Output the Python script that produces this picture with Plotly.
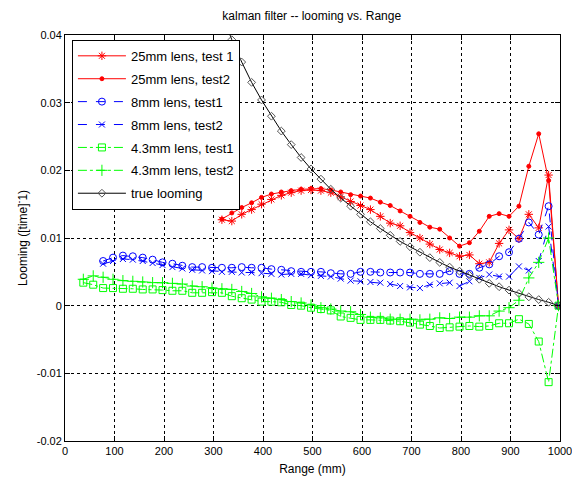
import plotly.graph_objects as go

# ---------------- data ----------------
range_red = [317, 337, 357, 377, 397, 417, 437, 457, 477, 497, 517, 537, 557, 577, 597,
             617, 637, 657, 677, 697, 717, 737, 757, 777, 797, 817, 837, 857, 877, 897,
             917, 937, 957, 977, 997]
lens25_test1 = [0.0127, 0.0125, 0.0135, 0.0142, 0.0150, 0.0157, 0.0163, 0.0167, 0.0170, 0.0171,
                0.0170, 0.0167, 0.0161, 0.0154, 0.0148, 0.0142, 0.0132, 0.0122, 0.0118, 0.0108,
                0.0100, 0.0091, 0.0083, 0.0078, 0.0073, 0.0075, 0.0062, 0.0064, 0.0092, 0.0112,
                0.0099, 0.0135, 0.0115, 0.0193, 0.0000]
lens25_test2 = [0.0128, 0.0137, 0.0145, 0.0152, 0.0160, 0.0165, 0.0168, 0.0170, 0.0172, 0.0173,
                0.0173, 0.0171, 0.0168, 0.0164, 0.0162, 0.0159, 0.0153, 0.0148, 0.0140, 0.0132,
                0.0123, 0.0116, 0.0113, 0.0100, 0.0088, 0.0093, 0.0110, 0.0132, 0.0136, 0.0132,
                0.0147, 0.0206, 0.0254, 0.0185, 0.0000]

range_blue = [77, 97, 117, 137, 157, 177, 197, 217, 237, 257, 277, 297, 317, 337, 357, 377,
              397, 417, 437, 457, 477, 497, 517, 537, 557, 577, 597, 617, 637, 657, 677, 697,
              717, 737, 757, 777, 797, 817, 837, 857, 877, 897, 917, 937, 957, 977, 997]
lens8_test1 = [0.0066, 0.0071, 0.0074, 0.0073, 0.0071, 0.0068, 0.0064, 0.0062, 0.0059, 0.0057,
               0.0057, 0.0056, 0.0056, 0.0056, 0.0057, 0.0056, 0.0056, 0.0054, 0.0053, 0.0051,
               0.0050, 0.0050, 0.0050, 0.0048, 0.0047, 0.0047, 0.0050, 0.0050, 0.0049, 0.0049,
               0.0049, 0.0049, 0.0047, 0.0047, 0.0047, 0.0051, 0.0047, 0.0047, 0.0056, 0.0061,
               0.0073, 0.0079, 0.0099, 0.0123, 0.0105, 0.0147, 0.0000]
lens8_test2 = [0.0062, 0.0066, 0.0069, 0.0068, 0.0066, 0.0063, 0.0060, 0.0057, 0.0055, 0.0053,
               0.0052, 0.0051, 0.0050, 0.0050, 0.0049, 0.0049, 0.0048, 0.0047, 0.0046, 0.0047,
               0.0047, 0.0045, 0.0044, 0.0043, 0.0040, 0.0037, 0.0036, 0.0035, 0.0034, 0.0032,
               0.0029, 0.0027, 0.0026, 0.0031, 0.0033, 0.0034, 0.0029, 0.0036, 0.0041, 0.0046,
               0.0043, 0.0043, 0.0058, 0.0052, 0.0066, 0.0117, 0.0000]

range_green = [37, 57, 77, 97, 117, 137, 157, 177, 197, 217, 237, 257, 277, 297, 317, 337,
               357, 377, 397, 417, 437, 457, 477, 497, 517, 537, 557, 577, 597, 617, 637, 657,
               677, 697, 717, 737, 757, 777, 797, 817, 837, 857, 877, 897, 917, 937, 957, 977,
               997]
lens43_test1 = [0.0034, 0.0031, 0.0026, 0.0026, 0.0025, 0.0025, 0.0024, 0.0024, 0.0023, 0.0022,
                0.0022, 0.0019, 0.0019, 0.0020, 0.0019, 0.0014, 0.0011, 0.0009, 0.0006, 0.0006,
                0.0005, 0.0001, 0.0000, -0.0003, -0.0005, -0.0007, -0.0016, -0.0018, -0.0021,
                -0.0021, -0.0021, -0.0022, -0.0023, -0.0025, -0.0028, -0.0030, -0.0033, -0.0032,
                -0.0031, -0.0030, -0.0031, -0.0030, -0.0026, -0.0026, -0.0020, -0.0027, -0.0053,
                -0.0113, 0.0000]
lens43_test2 = [0.0039, 0.0044, 0.0042, 0.0039, 0.0037, 0.0036, 0.0035, 0.0034, 0.0034, 0.0033,
                0.0032, 0.0029, 0.0028, 0.0026, 0.0025, 0.0024, 0.0021, 0.0018, 0.0013, 0.0011,
                0.0009, 0.0006, 0.0004, 0.0001, -0.0003, -0.0005, -0.0008, -0.0009, -0.0013,
                -0.0017, -0.0018, -0.0020, -0.0020, -0.0020, -0.0021, -0.0020, -0.0018, -0.0019,
                -0.0017, -0.0017, -0.0015, -0.0015, -0.0008, -0.0003, 0.0008, 0.0041, 0.0064,
                0.0100, 0.0000]

range_true = [317, 337, 357, 377, 397, 417, 437, 457, 477, 497, 517, 537, 557, 577, 597, 617,
              637, 657, 677, 697, 717, 737, 757, 777, 797, 817, 837, 857, 877, 897, 917, 937,
              957, 977, 997]
true_looming = [0.0431, 0.0393, 0.0360, 0.0330, 0.0304, 0.0280, 0.0258, 0.0238, 0.0219, 0.0202,
                0.0187, 0.0172, 0.0159, 0.0147, 0.0135, 0.0124, 0.0114, 0.0104, 0.0095, 0.0087,
                0.0079, 0.0071, 0.0064, 0.0057, 0.0051, 0.0045, 0.0039, 0.0033, 0.0028, 0.0023,
                0.0018, 0.0013, 0.0009, 0.0005, 0.0000]

x_ticks = [0, 100, 200, 300, 400, 500, 600, 700, 800, 900, 1000]
y_ticks = [-0.02, -0.01, 0, 0.01, 0.02, 0.03, 0.04]
y_tick_labels = ["-0.02", "-0.01", "0", "0.01", "0.02", "0.03", "0.04"]

# ---------------- figure ----------------
FONT = "Liberation Sans, Arial, sans-serif"
fig = go.Figure()

series = [
    ("25mm lens, test 1", range_red, lens25_test1, "#ff0000", "solid", "asterisk-open", 7),
    ("25mm lens, test2", range_red, lens25_test2, "#ff0000", "solid", "circle", 4),
    ("8mm lens, test1", range_blue, lens8_test1, "#0000ff", "dash", "circle-open", 7),
    ("8mm lens, test2", range_blue, lens8_test2, "#0000ff", "dash", "x-thin-open", 6),
    ("4.3mm lens, test1", range_green, lens43_test1, "#00ff00", "dashdot", "square-open", 7),
    ("4.3mm lens, test2", range_green, lens43_test2, "#00ff00", "dashdot", "cross-thin-open", 8),
    ("true looming", range_true, true_looming, "#000000", "solid", "diamond-open", 6),
]
for i, (name, xs, ys, col, dash, sym, size) in enumerate(series):
    mcol = "#555555" if name == "true looming" else col
    fig.add_trace(go.Scatter(
        x=xs, y=ys, name=name, mode="lines+markers", legendgroup=f"g{i}",
        line=dict(color=col, width=1, dash=dash),
        marker=dict(symbol=sym, size=size, color=mcol, line=dict(color=mcol, width=1)),
    ))

axis_common = dict(
    showline=True, linecolor="black", linewidth=1, mirror="ticks",
    ticks="inside", ticklen=5, tickcolor="black",
    showgrid=True, gridcolor="black", gridwidth=1, griddash="dot",
    zeroline=False, automargin=False,
    tickfont=dict(family=FONT, size=11, color="black"),
)

fig.update_layout(
    width=572, height=489,
    margin=dict(l=65, r=12, t=35, b=48),
    paper_bgcolor="white", plot_bgcolor="white",
    font=dict(family=FONT, size=12, color="black"),
    title=dict(text="kalman filter -- looming vs. Range", x=0.545, xanchor="center",
               y=1 - 16 / 489, yanchor="middle", font=dict(family=FONT, size=12)),
    xaxis=dict(range=[0, 1000], tickvals=x_ticks, ticklabeloverflow="allow",
               title=dict(text="Range (mm)", font=dict(family=FONT, size=12), standoff=8),
               **axis_common),
    yaxis=dict(range=[-0.02, 0.04], tickvals=y_ticks, ticktext=y_tick_labels,
               title=dict(text="Looming ([time]<sup>-</sup>1)", font=dict(family=FONT, size=12),
                          standoff=6),
               **axis_common),
    legend=dict(x=0.014, y=0.988, xanchor="left", yanchor="top",
                bgcolor="white", bordercolor="black", borderwidth=1,
                font=dict(family=FONT, size=13), traceorder="grouped",
                tracegroupgap=3, itemwidth=48),
    showlegend=True,
)

fig.write_html("out.html")
